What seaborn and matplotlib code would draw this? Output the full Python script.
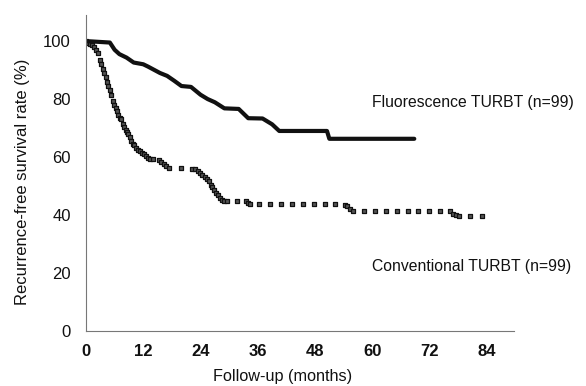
import matplotlib
matplotlib.use("Agg")
import matplotlib.pyplot as plt
import seaborn as sns
import pandas as pd

sns.set_theme(style="white")
plt.rcParams['font.family'] = ['Liberation Sans Narrow', 'Liberation Sans', 'DejaVu Sans']

# Fluorescence TURBT (solid line)
fluo_months = [0, 5.0, 6.0, 7.0, 8.5, 10.0, 12.0, 13.0, 15.5, 17.0, 18.5, 20.0, 22.0,
               24.0, 25.5, 27.0, 29.0, 32.0, 34.0, 37.0, 39.0, 40.5, 50.5, 51.0, 68.8]
fluo_rate = [100, 99.5, 97.0, 95.5, 94.3, 92.6, 92.0, 91.2, 89.0, 88.0, 86.3, 84.5, 84.2,
             81.5, 80.0, 78.9, 76.8, 76.6, 73.4, 73.3, 71.3, 69.0, 69.0, 66.3, 66.3]

# Conventional TURBT (square markers)
conv_months = [0.0, 0.4, 0.8, 1.2, 1.6, 2.0, 2.5, 2.9, 3.2, 3.5, 3.8, 4.1, 4.4, 4.7, 5.0,
               5.3, 5.6, 5.9, 6.2, 6.5, 6.8, 7.1, 7.4, 7.7, 8.0, 8.3, 8.6, 8.9, 9.2, 9.5,
               9.8, 10.1, 10.5, 10.9, 11.3, 11.7, 12.1, 12.5, 13.0, 13.5, 14.0, 15.2, 15.8,
               16.3, 16.8, 17.3, 19.9, 22.2, 22.8, 23.4, 23.9, 24.4, 24.9, 25.3, 25.7, 26.1,
               26.5, 26.9, 27.3, 27.7, 28.1, 28.5, 29.0, 29.5, 31.7, 33.5, 34.0, 34.4, 36.3,
               38.6, 40.9, 43.1, 45.4, 47.7, 50.0, 52.2, 54.3, 54.8, 55.3, 56.0, 58.3, 60.5,
               62.8, 65.1, 67.4, 69.6, 71.9, 74.2, 76.3, 77.0, 77.6, 78.2, 80.5, 82.9]
conv_rate = [100, 99.5, 99.0, 98.5, 97.8, 97.0, 96.0, 93.5, 92.0, 90.5, 89.0, 87.5, 86.0, 84.5, 83.0,
             81.5, 79.5, 78.0, 77.0, 76.0, 74.5, 73.5, 73.0, 71.5, 70.5, 69.5, 68.8, 68.0, 67.0, 65.5,
             64.5, 64.0, 63.2, 62.5, 62.0, 61.5, 61.0, 60.5, 59.8, 59.5, 59.3, 59.0, 58.2,
             57.5, 57.0, 56.3, 56.3, 56.0, 55.8, 55.2, 54.6, 53.8, 53.0, 52.4, 51.7, 50.5,
             49.5, 48.5, 47.6, 46.8, 46.0, 45.3, 44.8, 44.7, 44.7, 44.7, 44.0, 43.8, 43.8,
             43.8, 43.8, 43.8, 43.8, 43.8, 43.8, 43.8, 43.6, 43.0, 42.0, 41.3, 41.3, 41.3,
             41.3, 41.3, 41.3, 41.3, 41.3, 41.3, 41.3, 40.5, 40.0, 39.6, 39.6, 39.6]

x_ticks = [0, 12, 24, 36, 48, 60, 72, 84]
y_ticks = [0, 20, 40, 60, 80, 100]
label_fluo = "Fluorescence TURBT (n=99)"
label_conv = "Conventional TURBT (n=99)"

fluo_df = pd.DataFrame({"month": fluo_months, "rate": fluo_rate})
conv_df = pd.DataFrame({"month": conv_months, "rate": conv_rate})

fig = plt.figure(figsize=(5.86, 3.86), dpi=100)
ax = fig.add_axes([86/586, 1-331/386, (514-86)/586, (331-15)/386])

sns.lineplot(data=fluo_df, x="month", y="rate", ax=ax, color="#111111",
             linewidth=3.0, sort=False, estimator=None)
sns.scatterplot(data=conv_df, x="month", y="rate", ax=ax, color="#555555",
                marker="s", s=9, edgecolor="#111111", linewidth=0.9)

ax.set_xlim(0, 89.7)
ax.set_ylim(0, 109)
ax.set_xticks(x_ticks)
ax.set_yticks(y_ticks)
ax.set_xticklabels([str(t) for t in x_ticks], fontsize=12, fontweight="bold")
ax.set_yticklabels([str(t) for t in y_ticks], fontsize=12)

for s in ["top", "right"]:
    ax.spines[s].set_visible(False)
for s in ["left", "bottom"]:
    ax.spines[s].set_color("#777777")
    ax.spines[s].set_linewidth(0.8)

ax.tick_params(axis="x", direction="in", length=10, width=0.8, color="#555555", pad=9, labelcolor="#111111")
ax.tick_params(axis="y", direction="in", length=5, width=0.6, color="#888888", pad=11, labelcolor="#111111")

ax.set_xlabel("Follow-up (months)", fontsize=11.7, color="#111111",
              family=["Liberation Sans", "DejaVu Sans"], va="center")
ax.set_ylabel("Recurrence-free survival rate (%)", fontsize=12, color="#111111",
              family=["Liberation Sans", "DejaVu Sans"], va="center")
ax.xaxis.set_label_coords((283-86)/(514-86), -(377-331)/316)
ax.yaxis.set_label_coords(-(86-22)/428, (331-182)/316)

ax.text(60, 78.9, label_fluo, fontsize=11.3, va="center", ha="left", color="#111111",
        family=["Liberation Sans", "DejaVu Sans"], clip_on=False)
ax.text(60, 22.2, label_conv, fontsize=11.3, va="center", ha="left", color="#111111",
        family=["Liberation Sans", "DejaVu Sans"], clip_on=False)

fig.savefig("out.png", dpi=100, facecolor="white")
